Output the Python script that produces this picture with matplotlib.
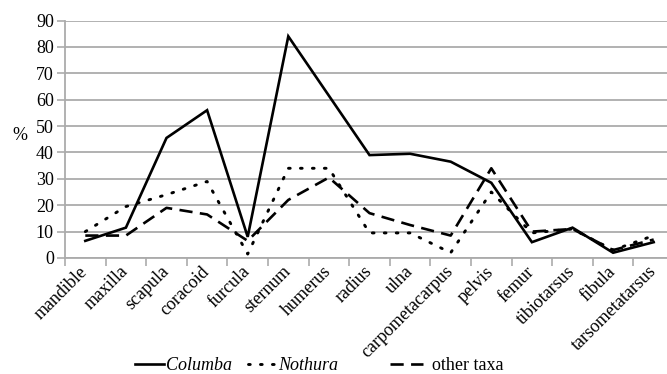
import matplotlib
matplotlib.use("Agg")
import matplotlib.pyplot as plt

BONES = [
    "mandible", "maxilla", "scapula", "coracoid", "furcula", "sternum",
    "humerus", "radius", "ulna", "carpometacarpus", "pelvis", "femur",
    "tibiotarsus", "fibula", "tarsometatarsus",
]
COLUMBA = [6.5, 11.5, 45.5, 56, 8, 84, 61.5, 39, 39.5, 36.5, 28.5, 6, 11.5, 2, 6]
NOTHURA = [10, 19.5, 24, 29, 1.5, 34, 34, 9.5, 9.5, 2, 25, 9.5, 11, 3, 8.5]
OTHER_TAXA = [8.5, 8.5, 19, 16.5, 6.5, 22, 30.5, 17, 12.5, 8.5, 34, 10, 11, 3, 7]
Y_TICKS = [0, 10, 20, 30, 40, 50, 60, 70, 80, 90]

GRID = "#ababab"

plt.rcParams["font.family"] = "serif"
plt.rcParams["font.serif"] = ["Liberation Serif", "Times New Roman", "DejaVu Serif"]

fig = plt.figure(figsize=(6.67, 3.74), dpi=100)
# the original is cropped on the right, so the axes run a little past the figure edge
ax = fig.add_axes([65 / 667, 1 - 258 / 374, 609 / 667, 237.5 / 374])

x = list(range(len(BONES)))
l1, = ax.plot(x, COLUMBA, color="black", lw=1.9, solid_joinstyle="miter", label="Columba", zorder=3)
l2, = ax.plot(x, NOTHURA, color="black", lw=2.1, linestyle=(0, (0.6, 3.5)),
              dash_capstyle="round", label="Nothura", zorder=3)
l3, = ax.plot(x, OTHER_TAXA, color="black", lw=1.9, linestyle=(0, (5, 2.8)),
              label="other taxa", zorder=3)

ax.set_xlim(-0.5, len(BONES) - 0.5)
ax.set_ylim(0, 90)
ax.set_yticks(Y_TICKS)
ax.set_yticklabels([str(v) for v in Y_TICKS], fontsize=13)
ax.yaxis.grid(True, color=GRID, lw=1.3)
ax.set_axisbelow(True)

# tick marks sit between categories, labels sit on the categories
ax.set_xticks([i + 0.5 for i in range(-1, len(BONES))], minor=False)
ax.set_xticklabels([])
ax.tick_params(axis="x", which="major", length=6, color=GRID, width=1.2)
ax.set_xticks(x, minor=True)
ax.set_xticklabels(BONES, minor=True, rotation=45, ha="right", va="center",
                   rotation_mode="anchor", fontsize=13)
ax.tick_params(axis="x", which="minor", length=0, pad=8)
ax.tick_params(axis="y", length=6, color=GRID, width=1.2, pad=2)

for side in ["top", "right"]:
    ax.spines[side].set_visible(False)
for side in ["left", "bottom"]:
    ax.spines[side].set_color(GRID)
    ax.spines[side].set_linewidth(1.3)

fig.text(20 / 667, 1 - 135 / 374, "%", fontsize=13, ha="center", va="center")

# two legend boxes so the uneven spacing of the original can be kept
leg_y = 1 - 366 / 374
leg1 = fig.legend([l1, l2], ["Columba", "Nothura"], loc="center left",
                  bbox_to_anchor=(135 / 667, leg_y), ncol=2, frameon=False, fontsize=13,
                  handlelength=1.6, handletextpad=0.1, columnspacing=0.9,
                  borderpad=0, borderaxespad=0)
for t in leg1.get_texts():
    t.set_style("italic")
fig.legend([l3], ["other taxa"], loc="center left", bbox_to_anchor=(390 / 667, leg_y),
           frameon=False, fontsize=13, handlelength=1.8, handletextpad=0.5,
           borderpad=0, borderaxespad=0)

fig.savefig("out.png", dpi=100)
